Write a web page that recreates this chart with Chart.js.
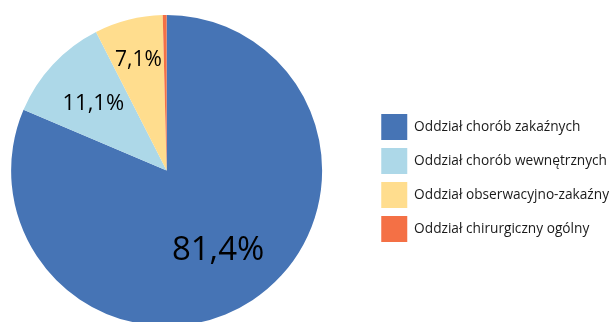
<!DOCTYPE html>
<html>
<head>
<meta charset="utf-8">
<script src="https://cdn.jsdelivr.net/npm/chart.js@4.4.1/dist/chart.umd.min.js"></script>
<style>
  html, body { margin: 0; padding: 0; background: #fff; overflow: hidden; }
  #wrap { position: relative; width: 614px; height: 322px; overflow: hidden; }
  #pie { position: absolute; left: -40px; top: 0; }
</style>
</head>
<body>
<div id="wrap">
  <canvas id="pie" height="341"></canvas>
</div>
<script>
// Pacjenci wg oddziału (%)
var oddzialy = [
  'Oddział chorób zakaźnych',
  'Oddział chorób wewnętrznych',
  'Oddział obserwacyjno-zakaźny',
  'Oddział chirurgiczny ogólny'
];
var udzialy = [81.4, 11.1, 7.1, 0.4];
var kolory = ['#4674b5', '#add8e8', '#ffdd8e', '#f47045'];

// wielkość i odległość od środka dla etykiet wartości (0 = bez etykiety)
var etykietyStyl = [
  { size: 33, r: 0.60 },
  { size: 22, r: 0.645 },
  { size: 21, r: 0.74 },
  { size: 0, r: 0 }
];

var legendaFont = 13.7;
var legendaBox = 26;
var legendaOdstep = 8;
var obszarKola = 413;   // szerokość obszaru wykresu po lewej od legendy

function procent(v) {
  return v.toFixed(1).replace('.', ',') + '%';
}

Chart.defaults.font.family = '"Open Sans", sans-serif';

// szerokość płótna = obszar koła + szerokość legendy (tak jak liczy ją Chart.js)
var canvas = document.getElementById('pie');
var ctx = canvas.getContext('2d');
ctx.font = legendaFont + 'px "Open Sans", sans-serif';
var maxTekst = Math.max.apply(null, oddzialy.map(function(t) { return ctx.measureText(t).width; }));
canvas.width = Math.ceil(obszarKola + legendaOdstep + legendaBox + legendaFont / 2 + maxTekst + 10);

// etykiety z wartościami na wycinkach
var etykiety = {
  id: 'etykiety',
  afterDatasetsDraw: function(chart) {
    var c = chart.ctx;
    var meta = chart.getDatasetMeta(0);
    c.save();
    c.fillStyle = '#000';
    c.textAlign = 'center';
    c.textBaseline = 'alphabetic';
    meta.data.forEach(function(arc, i) {
      var st = etykietyStyl[i];
      if (!st.size) return;
      var p = arc.getProps(['x', 'y', 'startAngle', 'endAngle', 'outerRadius'], true);
      var mid = (p.startAngle + p.endAngle) / 2;
      var cx = p.x + Math.cos(mid) * p.outerRadius * st.r;
      var cy = p.y + Math.sin(mid) * p.outerRadius * st.r;
      c.font = st.size + 'px "Open Sans"';
      c.fillText(procent(udzialy[i]), cx, cy + st.size * 0.357);
    });
    c.restore();
  }
};

// legenda trochę niżej niż środek koła
var przesunLegende = {
  id: 'przesunLegende',
  afterLayout: function(chart) {
    chart.legend.top += 7.5;
    chart.legend.bottom += 7.5;
  }
};

var myChart = new Chart(ctx, {
  type: 'pie',
  data: {
    labels: oddzialy,
    datasets: [{
      data: udzialy,
      backgroundColor: kolory,
      borderWidth: 0,
      hoverOffset: 0
    }]
  },
  options: {
    responsive: false,
    animation: false,
    layout: { padding: { top: 15, bottom: 15, left: 0, right: 0 } },
    plugins: {
      tooltip: { enabled: false },
      legend: {
        position: 'right',
        labels: {
          boxWidth: legendaBox,
          boxHeight: legendaBox,
          padding: legendaOdstep,
          color: '#1a1a1a',
          font: { size: legendaFont }
        }
      }
    }
  },
  plugins: [etykiety, przesunLegende]
});
</script>
</body>
</html>
